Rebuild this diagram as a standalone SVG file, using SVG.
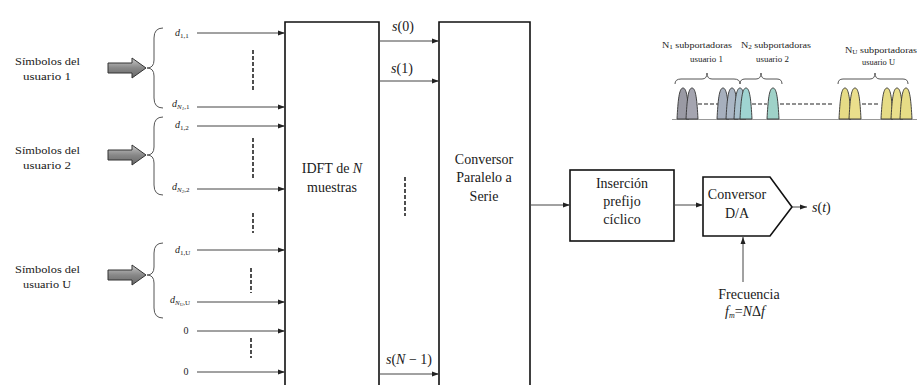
<svg xmlns="http://www.w3.org/2000/svg" width="917" height="385" viewBox="0 0 917 385">
<style>
.t{font-family:"Liberation Serif","Times New Roman",serif;fill:#1a1a1a;}
.sm{font-size:10px;}
.md{font-size:14px;}
.it{font-style:italic;}
.box{fill:#fff;stroke:#111;stroke-width:1.6;}
.ln{stroke:#444;stroke-width:1;fill:none;}
.dash{stroke:#222;stroke-width:1.6;stroke-dasharray:4,2;fill:none;}
.br{stroke:#555;stroke-width:1;fill:none;}
.fat{fill:url(#g);stroke:#333;stroke-width:1;}
.pk{stroke:#333;stroke-width:0.9;}
.sd{stroke:#222;stroke-width:1.2;stroke-dasharray:4,2;fill:none;}
.sp{font-size:8.5px;}
</style>
<defs>
<marker id="a" markerWidth="8" markerHeight="8" refX="7" refY="4" orient="auto" markerUnits="userSpaceOnUse">
<path d="M0,1.5 L7,4 L0,6.5 Z" fill="#222"/>
</marker>
<linearGradient id="g" x1="0" y1="0" x2="0" y2="1">
<stop offset="0" stop-color="#c8c8c8"/><stop offset="0.5" stop-color="#888"/><stop offset="1" stop-color="#666"/>
</linearGradient>
<path id="pk" d="M-6,0 C-5,-18 -4,-31 0,-31 C4,-31 5,-18 6,0 Z"/>
</defs>

<g id="user1">
<text class="t sm" x="15" y="65" textLength="65" lengthAdjust="spacingAndGlyphs">Símbolos del</text>
<text class="t sm" x="23" y="80" textLength="48" lengthAdjust="spacingAndGlyphs">usuario 1</text>
<path class="fat" d="M108,63 L132,63 L132,58 L146,68 L132,78 L132,73 L108,73 Z"/>
<path class="br" d="M163,28 Q154,28 154,38 L154,60 Q154,68 147,68 Q154,68 154,76 L154,98 Q154,108 163,108"/>
<text class="t sm it" x="175" y="36">d<tspan font-size="7" dy="2" font-style="normal">1,1</tspan></text>
<text class="t sm it" x="172" y="107">d<tspan font-size="7" dy="2">N<tspan font-size="5" dy="1">1</tspan><tspan dy="-1" font-style="normal">,1</tspan></tspan></text>
<line class="dash" x1="253" y1="50" x2="253" y2="90"/>
</g>

<g id="user2">
<text class="t sm" x="15" y="154" textLength="65" lengthAdjust="spacingAndGlyphs">Símbolos del</text>
<text class="t sm" x="23" y="169" textLength="48" lengthAdjust="spacingAndGlyphs">usuario 2</text>
<path class="fat" d="M108,150 L132,150 L132,145 L146,155 L132,165 L132,160 L108,160 Z"/>
<path class="br" d="M163,117 Q154,117 154,127 L154,147 Q154,155 147,155 Q154,155 154,163 L154,185 Q154,195 163,195"/>
<text class="t sm it" x="175" y="128">d<tspan font-size="7" dy="2" font-style="normal">1,2</tspan></text>
<text class="t sm it" x="172" y="190">d<tspan font-size="7" dy="2">N<tspan font-size="5" dy="1">2</tspan><tspan dy="-1" font-style="normal">,2</tspan></tspan></text>
<line class="dash" x1="253" y1="138" x2="253" y2="180"/>
</g>

<line class="dash" x1="253" y1="213" x2="253" y2="233"/>

<g id="userU">
<text class="t sm" x="15" y="273" textLength="65" lengthAdjust="spacingAndGlyphs">Símbolos del</text>
<text class="t sm" x="23" y="288" textLength="48" lengthAdjust="spacingAndGlyphs">usuario U</text>
<path class="fat" d="M108,270 L132,270 L132,265 L146,275 L132,285 L132,280 L108,280 Z"/>
<path class="br" d="M163,243 Q154,243 154,253 L154,267 Q154,275 147,275 Q154,275 154,283 L154,308 Q154,318 163,318"/>
<text class="t sm it" x="175" y="253">d<tspan font-size="7" dy="2" font-style="normal">1,U</tspan></text>
<text class="t sm it" x="170" y="303">d<tspan font-size="7" dy="2">N<tspan font-size="5" dy="1">U</tspan><tspan dy="-1" font-style="normal">,U</tspan></tspan></text>
<line class="dash" x1="251" y1="268" x2="251" y2="293"/>
<text class="t sm" x="186" y="334" text-anchor="middle">0</text>
<text class="t sm" x="186" y="375" text-anchor="middle">0</text>
<line class="dash" x1="251" y1="338" x2="251" y2="358"/>
</g>

<g id="idft">
<path class="box" d="M285,392 L285,22 L379,22 L379,392"/>
<text class="t md" x="332" y="173" text-anchor="middle">IDFT de <tspan font-style="italic">N</tspan></text>
<text class="t md" x="332" y="192" text-anchor="middle">muestras</text>
</g>

<g id="ps">
<path class="box" d="M439,392 L439,22 L530,22 L530,392"/>
<text class="t md" x="484" y="164" text-anchor="middle">Conversor</text>
<text class="t md" x="484" y="182" text-anchor="middle">Paralelo a</text>
<text class="t md" x="484" y="201" text-anchor="middle">Serie</text>
<text class="t md it" x="403" y="31" text-anchor="middle">s<tspan font-style="normal">(0)</tspan></text>
<text class="t md it" x="402" y="73" text-anchor="middle">s<tspan font-style="normal">(1)</tspan></text>
<text class="t md it" x="409" y="364" text-anchor="middle">s<tspan font-style="normal">(</tspan>N<tspan font-style="normal"> − 1)</tspan></text>
<line class="dash" x1="405" y1="177" x2="405" y2="216"/>
</g>

<g id="cp">
<rect class="box" x="570" y="170" width="104" height="71"/>
<text class="t md" x="622" y="188" text-anchor="middle">Inserción</text>
<text class="t md" x="622" y="206" text-anchor="middle">prefijo</text>
<text class="t md" x="622" y="224" text-anchor="middle">cíclico</text>
</g>

<g id="dac">
<path class="box" d="M703,177 L770,177 L792,207 L770,236 L703,236 Z"/>
<text class="t md" x="737" y="199" text-anchor="middle">Conversor</text>
<text class="t md" x="737" y="218" text-anchor="middle">D/A</text>
<text class="t md it" x="812" y="212">s<tspan font-style="normal">(</tspan>t<tspan font-style="normal">)</tspan></text>
</g>

<g id="freq">
<text class="t md" x="749" y="299" text-anchor="middle">Frecuencia</text>
<text class="t md it" x="745" y="316" text-anchor="middle">f<tspan font-size="8" dy="2">m</tspan><tspan dy="-2" font-style="normal">=</tspan>N<tspan font-style="normal">Δ</tspan>f</text>
</g>

<g id="connectors">
<line class="ln" x1="197" y1="33" x2="285" y2="33" marker-end="url(#a)"/>
<line class="ln" x1="197" y1="107" x2="285" y2="107" marker-end="url(#a)"/>
<line class="ln" x1="197" y1="126" x2="285" y2="126" marker-end="url(#a)"/>
<line class="ln" x1="197" y1="189" x2="285" y2="189" marker-end="url(#a)"/>
<line class="ln" x1="197" y1="250" x2="285" y2="250" marker-end="url(#a)"/>
<line class="ln" x1="197" y1="302" x2="285" y2="302" marker-end="url(#a)"/>
<line class="ln" x1="197" y1="331" x2="285" y2="331" marker-end="url(#a)"/>
<line class="ln" x1="197" y1="372" x2="285" y2="372" marker-end="url(#a)"/>
<line class="ln" x1="379" y1="41" x2="439" y2="41" marker-end="url(#a)"/>
<line class="ln" x1="379" y1="81" x2="439" y2="81" marker-end="url(#a)"/>
<line class="ln" x1="379" y1="374" x2="439" y2="374" marker-end="url(#a)"/>
<line class="ln" x1="530" y1="205" x2="570" y2="205" marker-end="url(#a)"/>
<line class="ln" x1="674" y1="205" x2="703" y2="205" marker-end="url(#a)"/>
<line class="ln" x1="792" y1="207" x2="807" y2="207" marker-end="url(#a)"/>
<line class="ln" x1="743" y1="282" x2="743" y2="237" marker-end="url(#a)"/>
</g>

<g id="spectrum">
<line x1="672" y1="119.5" x2="917" y2="119.5" stroke="#999" stroke-width="1"/>
<line class="sd" x1="698" y1="104" x2="718" y2="104"/>
<line class="sd" x1="752" y1="104" x2="767" y2="104"/>
<line class="sd" x1="780" y1="104" x2="832" y2="104"/>
<line class="sd" x1="862" y1="104" x2="878" y2="104"/>
<use href="#pk" class="pk" x="683" y="119" fill="#9a9aa4"/>
<use href="#pk" class="pk" x="692" y="119" fill="#a5a5b0"/>
<use href="#pk" class="pk" x="723" y="119" fill="#a6afbd"/>
<use href="#pk" class="pk" x="732" y="119" fill="#aab6c4"/>
<use href="#pk" class="pk" x="740" y="119" fill="#a8c0cc"/>
<use href="#pk" class="pk" x="746" y="119" fill="#9fd4d2"/>
<use href="#pk" class="pk" x="773" y="119" fill="#9fd2c8"/>
<use href="#pk" class="pk" x="845" y="119" fill="#e6dc86"/>
<use href="#pk" class="pk" x="855" y="119" fill="#eadf8c"/>
<use href="#pk" class="pk" x="887" y="119" fill="#e6dc86"/>
<use href="#pk" class="pk" x="897" y="119" fill="#eadf8c"/>
<use href="#pk" class="pk" x="906" y="119" fill="#e6dc86"/>
<path class="br" d="M675,84 Q675,79 681,79 L702,79 Q707,79 707,73 Q707,79 712,79 L734,79 Q740,79 740,84"/>
<path class="br" d="M740,84 Q740,79 745,79 L756,79 Q761,79 761,73 Q761,79 766,79 L777,79 Q782,79 782,84"/>
<path class="br" d="M838,84 Q838,79 843,79 L870,79 Q875,79 875,73 Q875,79 880,79 L903,79 Q908,79 908,84"/>
<text class="t sp" x="662" y="48" textLength="70" lengthAdjust="spacingAndGlyphs">N<tspan font-size="6" dy="1">1</tspan><tspan dy="-1"> subportadoras</tspan></text>
<text class="t sp" x="690" y="62" textLength="33" lengthAdjust="spacingAndGlyphs">usuario 1</text>
<text class="t sp" x="741" y="48" textLength="70" lengthAdjust="spacingAndGlyphs">N<tspan font-size="6" dy="1">2</tspan><tspan dy="-1"> subportadoras</tspan></text>
<text class="t sp" x="756" y="62" textLength="33" lengthAdjust="spacingAndGlyphs">usuario 2</text>
<text class="t sp" x="845" y="53" textLength="72" lengthAdjust="spacingAndGlyphs">N<tspan font-size="6" dy="1">U</tspan><tspan dy="-1"> subportadoras</tspan></text>
<text class="t sp" x="862" y="65" textLength="33" lengthAdjust="spacingAndGlyphs">usuario U</text>
</g>
</svg>
